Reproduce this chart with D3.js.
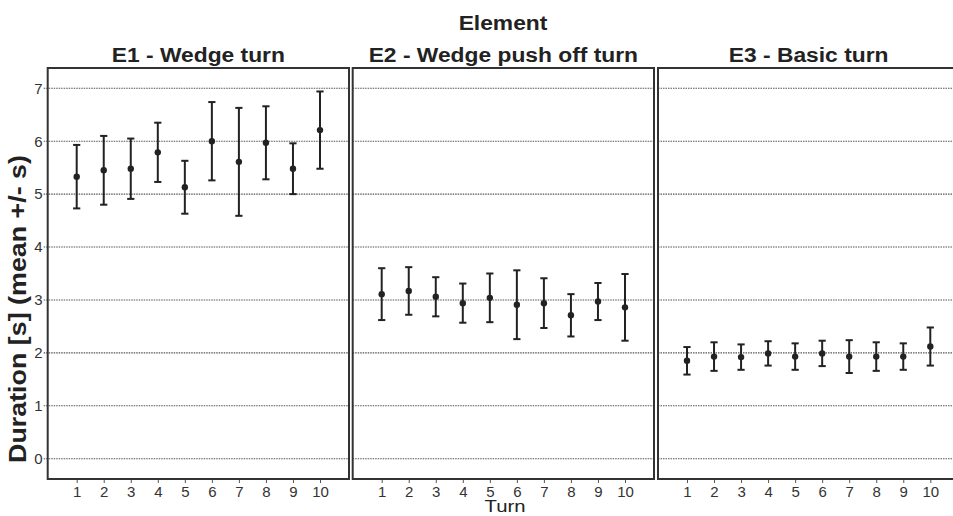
<!DOCTYPE html>
<html><head><meta charset="utf-8">
<script src="https://cdn.jsdelivr.net/npm/d3@7"></script>
<style>body{margin:0;background:#fff}svg{display:block}text{font-family:"Liberation Sans",Arial,sans-serif}</style>
</head><body><svg id="c" width="953" height="516"></svg>
<script>
const panels = ["E1 - Wedge turn", "E2 - Wedge push off turn", "E3 - Basic turn"];
const turns = [1,2,3,4,5,6,7,8,9,10];
const meanE1 = [5.33,5.45,5.48,5.79,5.13,6.00,5.61,5.97,5.48,6.21];
const sdE1   = [0.60,0.65,0.57,0.56,0.50,0.74,1.02,0.69,0.48,0.73];
const meanE2 = [3.11,3.17,3.06,2.94,3.04,2.91,2.94,2.71,2.97,2.86];
const sdE2   = [0.49,0.45,0.37,0.37,0.46,0.65,0.47,0.40,0.35,0.63];
const meanE3 = [1.85,1.93,1.92,1.99,1.93,1.99,1.93,1.93,1.93,2.12];
const sdE3   = [0.26,0.27,0.24,0.23,0.25,0.24,0.31,0.27,0.25,0.36];
const yTicks = [0,1,2,3,4,5,6,7];

const means = [meanE1, meanE2, meanE3];
const sds = [sdE1, sdE2, sdE3];

const svg = d3.select("#c");
const pTop = 68, pBottom = 479, pw = 301.3;
const lefts = [47.7, 352.7, 658];
const y = d3.scaleLinear().domain([0,7]).range([458.7, 88.3]);

function stretch(sel, f) {
  const n = sel.node();
  const len = n.getComputedTextLength();
  sel.attr("textLength", len * f).attr("lengthAdjust", "spacingAndGlyphs");
}

stretch(svg.append("text").attr("x", 503).attr("y", 30).attr("text-anchor","middle")
  .attr("font-size", 20).attr("font-weight","bold").attr("fill","#222").text("Element"), 1.14);

panels.forEach((name, p) => {
  const L = lefts[p];
  const x = d3.scaleLinear().domain([1,10]).range([L+29, L+272.3]);
  const g = svg.append("g");
  stretch(g.append("text").attr("x", L + pw/2).attr("y", 61.5).attr("text-anchor","middle")
    .attr("font-size", 20).attr("font-weight","bold").attr("fill","#222").text(name), 1.14);
  g.selectAll("line.grid").data(yTicks).join("line").attr("class","grid")
    .attr("x1", p === 0 ? L-4 : L).attr("x2", L+pw)
    .attr("y1", d => y(d)).attr("y2", d => y(d))
    .attr("stroke", "#555").attr("stroke-width", 1.1).attr("stroke-dasharray","1.5,1");
  const xa = g.append("g").attr("transform", `translate(0,${pBottom})`)
    .call(d3.axisBottom(x).tickValues(turns).tickSize(4).tickPadding(3).tickFormat(d3.format("d")));
  xa.select(".domain").remove();
  xa.selectAll(".tick line").attr("stroke","#555");
  xa.selectAll(".tick text").attr("font-size", 15).attr("fill","#333").attr("font-family",'"Liberation Sans",Arial,sans-serif');
  if (p === 0) {
    const ya = g.append("g").attr("transform", `translate(${L},0)`)
      .call(d3.axisLeft(y).tickValues(yTicks).tickSize(0).tickPadding(5).tickFormat(d3.format("d")));
    ya.select(".domain").remove();
    ya.selectAll(".tick text").attr("font-size", 15).attr("fill","#333").attr("font-family",'"Liberation Sans",Arial,sans-serif');
  }
  const data = turns.map((t,i) => ({t, m: means[p][i], s: sds[p][i]}));
  const eb = g.selectAll("g.eb").data(data).join("g").attr("class","eb");
  eb.append("line").attr("x1", d => x(d.t)).attr("x2", d => x(d.t))
    .attr("y1", d => y(d.m + d.s)).attr("y2", d => y(d.m - d.s))
    .attr("stroke","#222").attr("stroke-width", 2);
  [1,-1].forEach(sg => {
    eb.append("line").attr("x1", d => x(d.t)-3.6).attr("x2", d => x(d.t)+3.6)
      .attr("y1", d => y(d.m + sg*d.s)).attr("y2", d => y(d.m + sg*d.s))
      .attr("stroke","#222").attr("stroke-width", 2);
  });
  eb.append("circle").attr("cx", d => x(d.t)).attr("cy", d => y(d.m)).attr("r", 3.2).attr("fill","#222");
  g.append("rect").attr("x", L).attr("y", pTop).attr("width", pw).attr("height", pBottom-pTop)
    .attr("fill","none").attr("stroke","#333").attr("stroke-width", 2);
});

svg.append("text").attr("transform","translate(26,309) rotate(-90)").attr("text-anchor","middle")
  .attr("font-size", 23.5).attr("font-weight","bold").attr("fill","#222")
  .attr("textLength", 308).attr("lengthAdjust","spacingAndGlyphs")
  .text("Duration [s] (mean +/- s)");
svg.append("text").attr("x", 505).attr("y", 512).attr("text-anchor","middle")
  .attr("font-size", 16).attr("fill","#222")
  .attr("textLength", 41).attr("lengthAdjust","spacingAndGlyphs").text("Turn");
</script></body></html>
